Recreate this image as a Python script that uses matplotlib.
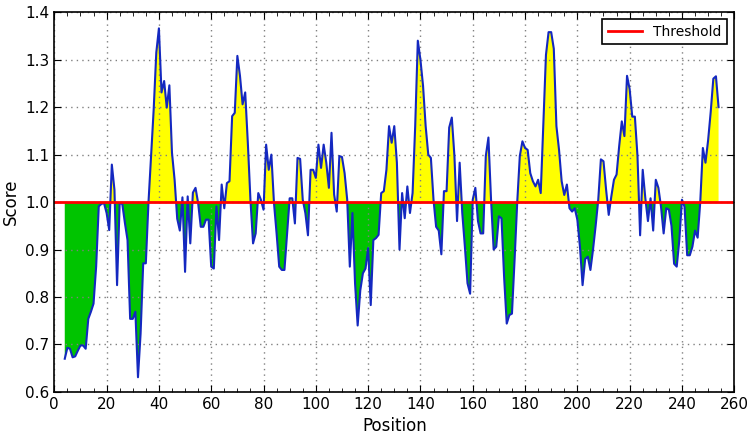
import numpy as np
import matplotlib
matplotlib.use("Agg")
from matplotlib import pyplot as plt
from matplotlib.ticker import MultipleLocator

threshold = 1.0
positions = list(range(4, 255))
scores = [
    0.670, 0.693, 0.691, 0.673, 0.675, 0.687, 0.698, 0.698, 0.691, 0.754,  # 4-13
    0.769, 0.786, 0.864, 0.991, 0.996, 0.998, 0.977, 0.941, 1.079, 1.026,  # 14-23
    0.825, 0.998, 0.996, 0.956, 0.920, 0.754, 0.754, 0.769, 0.631, 0.723,  # 24-33
    0.871, 0.871, 0.998, 1.097, 1.195, 1.315, 1.366, 1.231, 1.255, 1.199,  # 34-43
    1.246, 1.104, 1.047, 0.965, 0.940, 1.010, 0.853, 1.012, 0.913, 1.020,  # 44-53
    1.030, 0.998, 0.948, 0.948, 0.963, 0.963, 0.864, 0.860, 0.991, 0.920,  # 54-63
    1.037, 0.987, 1.040, 1.044, 1.181, 1.188, 1.308, 1.266, 1.206, 1.231,  # 64-73
    1.125, 1.005, 0.913, 0.934, 1.019, 1.005, 0.984, 1.121, 1.068, 1.100,  # 74-83
    0.998, 0.934, 0.864, 0.857, 0.857, 0.934, 1.008, 1.008, 0.955, 1.093,  # 84-93
    1.091, 1.005, 0.977, 0.930, 1.068, 1.068, 1.051, 1.121, 1.072, 1.121,  # 94-103
    1.083, 1.030, 1.146, 1.016, 0.980, 1.097, 1.095, 1.061, 1.005, 0.864,  # 104-113
    0.977, 0.829, 0.740, 0.814, 0.850, 0.860, 0.903, 0.783, 0.920, 0.924,  # 114-123
    0.931, 1.019, 1.023, 1.068, 1.160, 1.125, 1.160, 1.083, 0.900, 1.019,  # 124-133
    0.966, 1.033, 0.977, 1.019, 1.160, 1.340, 1.300, 1.245, 1.160, 1.100,  # 134-143
    1.093, 1.005, 0.948, 0.940, 0.890, 1.023, 1.023, 1.157, 1.178, 1.097,  # 144-153
    0.960, 1.083, 0.977, 0.906, 0.829, 0.807, 1.005, 1.030, 0.960, 0.934,  # 154-163
    0.934, 1.097, 1.136, 1.005, 0.900, 0.906, 0.970, 0.966, 0.842, 0.744,  # 164-173
    0.762, 0.765, 0.878, 0.998, 1.097, 1.128, 1.114, 1.110, 1.061, 1.044,  # 174-183
    1.033, 1.047, 1.019, 1.167, 1.310, 1.358, 1.358, 1.323, 1.160, 1.110,  # 184-193
    1.044, 1.015, 1.037, 0.987, 0.980, 0.987, 0.963, 0.906, 0.825, 0.880,  # 194-203
    0.885, 0.857, 0.900, 0.950, 1.005, 1.090, 1.086, 1.026, 0.973, 1.012,  # 204-213
    1.047, 1.058, 1.118, 1.170, 1.139, 1.266, 1.238, 1.180, 1.180, 1.097,  # 214-223
    0.930, 1.068, 1.008, 0.960, 1.008, 0.940, 1.047, 1.030, 0.990, 0.934,  # 224-233
    0.987, 0.984, 0.950, 0.870, 0.864, 0.920, 1.005, 0.990, 0.888, 0.888,  # 234-243
    0.906, 0.940, 0.925, 1.000, 1.114, 1.083, 1.130, 1.190, 1.260, 1.265,  # 244-253
    1.200,  # 254
]

x = np.array(positions)
y = np.array(scores)

fig = plt.figure(figsize=(7.5, 4.36), dpi=100)
ax = fig.add_axes([0.0724, 0.101, 0.9066, 0.871])

# yellow above threshold, green below
ax.fill_between(x, y, threshold, where=y >= threshold, interpolate=True,
                color="#ffff00", linewidth=0)
ax.fill_between(x, y, threshold, where=y <= threshold, interpolate=True,
                color="#00c400", linewidth=0)
ax.plot(x, y, color="#1428c0", linewidth=1.5)
ax.axhline(threshold, color="red", linewidth=2, label="Threshold")

ax.set_xlim(0, 260)
ax.set_ylim(0.6, 1.4)
ax.xaxis.set_major_locator(MultipleLocator(20))
ax.xaxis.set_minor_locator(MultipleLocator(5))
ax.yaxis.set_major_locator(MultipleLocator(0.1))
ax.tick_params(which="both", direction="in", top=True, right=True, labelsize=11)
ax.tick_params(which="major", length=5)
ax.tick_params(which="minor", length=3)
ax.grid(True, which="major", color="gray", linestyle=(0, (1, 3)), linewidth=1.0)
for s in ax.spines.values():
    s.set_linewidth(1.2)

ax.set_xlabel("Position", fontsize=12)
ax.set_ylabel("Score", fontsize=12)

leg = ax.legend(loc="upper right", fontsize=10, fancybox=False, framealpha=1,
                handlelength=2.5, borderaxespad=0.5)
leg.get_frame().set_edgecolor("black")
leg.get_frame().set_linewidth(1.2)

fig.savefig("out.png", dpi=100)
